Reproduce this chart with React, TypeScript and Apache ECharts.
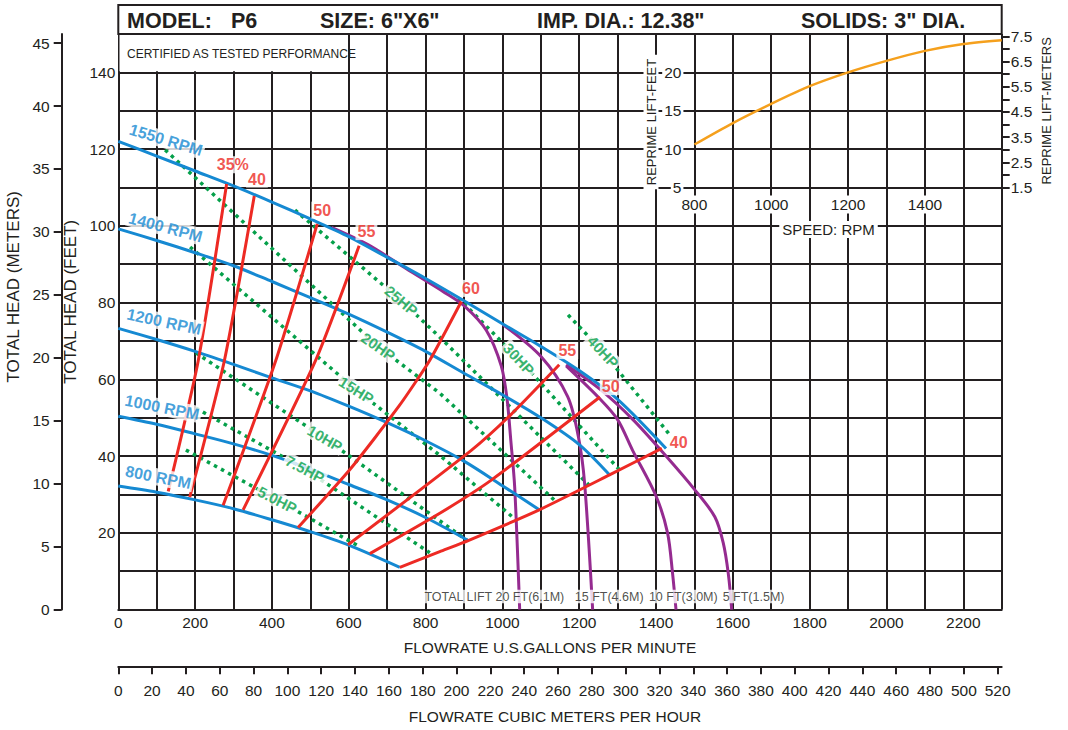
import React, { useEffect, useRef } from 'react';
import * as echarts from 'echarts';

const INK = '#231f20';
const BLUE = '#1589d2';
const RED = '#ed2a24';
const PURPLE = '#952b90';
const GREEN = '#05a04a';
const ORANGE = '#f5a01d';
const FONT = '"Liberation Sans", Arial, Helvetica, sans-serif';

// ---------- axis ticks / labels ----------
const gpmLabels = [0, 200, 400, 600, 800, 1000, 1200, 1400, 1600, 1800, 2000, 2200];
const feetLabels = [20, 40, 60, 80, 100, 120, 140];
const meterTicks = [0, 5, 10, 15, 20, 25, 30, 35, 40, 45];
const m3hTicks = [0, 20, 40, 60, 80, 100, 120, 140, 160, 180, 200, 220, 240, 260, 280, 300, 320, 340, 360, 380, 400, 420, 440, 460, 480, 500, 520];
const rpmLabels = [800, 1000, 1200, 1400];
const repFeetLabels = [5, 10, 15, 20];
const repMeterTicks = [1.5, 2, 2.5, 3, 3.5, 4, 4.5, 5, 5.5, 6, 6.5, 7, 7.5];
const repMeterLabels = [1.5, 2.5, 3.5, 4.5, 5.5, 6.5, 7.5];

// ---------- speed curves (GPM, FT) ----------
const rpm1550 = [[0, 122], [100, 118.2], [200, 114.3], [300, 110.4], [400, 106.2], [500, 101.8], [600, 97.2], [700, 91.8], [800, 86.3], [900, 80.5], [1000, 74.5], [1100, 68.6], [1200, 62.3], [1300, 54.8], [1426, 42]];
const rpm1400 = [[0, 99.2], [100, 96.2], [200, 93], [300, 89.6], [400, 85.5], [500, 81.3], [600, 77], [700, 72.3], [800, 67.3], [900, 61.6], [1000, 56], [1100, 50], [1200, 43], [1280, 35]];
const rpm1200 = [[0, 73.3], [100, 70.4], [200, 67.3], [300, 63.9], [400, 60.4], [500, 57], [600, 53], [700, 48.7], [800, 44], [900, 38.7], [1000, 32.3], [1096, 26]];
const rpm1000 = [[0, 50.4], [100, 48.3], [200, 45.8], [300, 43.2], [400, 40.2], [500, 36.6], [600, 32.6], [700, 28.6], [800, 24], [911, 18]];
const rpm800 = [[0, 32.2], [100, 30.6], [200, 28.6], [300, 26.3], [400, 23.4], [500, 20.3], [600, 16.8], [733, 11]];

// ---------- efficiency lines ----------
const eff35 = [[130, 30.8], [208, 64.8], [282, 110.9]];
const eff40 = [[186, 29.3], [276, 64.8], [354, 107.8]];
const eff50 = [[273, 27.2], [410, 64.9], [518, 100.5]];
const eff55 = [[325, 26], [514, 65], [627, 94.8]];
const eff60 = [[468, 21.4], [603, 36.5], [732, 53.2], [811, 65], [893, 80.3]];
const eff55r = [[598, 16.9], [919, 41.5], [1019, 50.5], [1148, 63.8]];
const eff50r = [[655, 14.6], [837, 25.1], [972, 33.8], [1254, 55.4]];
const eff40r = [[733, 11], [837, 15.1], [911, 18], [1096, 26], [1279, 35.1], [1415, 42]];

// ---------- total lift curves ----------
const lift20 = [[555, 99.6], [650, 95.1], [750, 88.8], [850, 82.6], [900, 79.2], [958, 72.8], [997, 63.5], [1012, 55], [1022, 44], [1032, 32], [1045, 0]];
const lift15 = [[1001, 74.3], [1100, 66], [1170, 55.5], [1198, 45], [1214, 33], [1235, 0]];
const lift10 = [[1166, 63.5], [1253, 55], [1300, 49.5], [1339, 41.5], [1400, 29.6], [1430, 20], [1443, 9.5], [1452, 0]];
const lift5 = [[1166, 63.8], [1253, 57.5], [1340, 49.5], [1426, 40], [1501, 31.2], [1553, 24.2], [1575, 17.4], [1588, 9.5], [1597, 0]];

// ---------- horsepower lines ----------
const hp5 = [[176, 41.6], [414, 28.6], [621, 16.8]];
const hp7_5 = [[202, 52.5], [486, 36.6], [811, 14.8]];
const hp10 = [[202, 66.9], [538, 44.6], [910, 17.9]];
const hp15 = [[187, 94.5], [620, 57.2], [837, 40.2], [1027, 24.1]];
const hp20 = [[122, 119.8], [677, 68.5], [837, 56.4], [1141, 28]];
const hp25 = [[460, 104.1], [737, 80.5], [837, 71], [1225, 32.5]];
const hp30 = [[885, 81.2], [1043, 65.3], [1305, 36.4]];
const hp40 = [[1171, 76.8], [1262, 67.2], [1436, 45.5]];

// ---------- reprime inset ----------
const repRpm = [800, 900, 1000, 1100, 1200, 1300, 1400, 1500, 1600];
const repLiftFt = [10.6, 13.4, 15.9, 18.2, 20.0, 21.5, 22.8, 23.7, 24.2];

// ---------- annotations ----------
const rpmNotes = [
  { text: '1550 RPM', at: [124, 122.4], rot: -17 },
  { text: '1400 RPM', at: [123, 99.6], rot: -15 },
  { text: '1200 RPM', at: [119, 75.0], rot: -12 },
  { text: '1000 RPM', at: [114, 52.7], rot: -11 },
  { text: '800 RPM', at: [104, 34.5], rot: -11 },
];
const effNotes = [
  { text: '35%', at: [298, 115.9] },
  { text: '40', at: [361, 112.2] },
  { text: '50', at: [531, 104.1] },
  { text: '55', at: [646, 98.5] },
  { text: '60', at: [918, 83.7] },
  { text: '55', at: [1169, 67.5] },
  { text: '50', at: [1282, 58.1] },
  { text: '40', at: [1459, 43.6] },
];
const hpNotes = [
  { text: '5.0HP', at: [414, 28.6], rot: -27 },
  { text: '7.5HP', at: [486, 36.6], rot: -28 },
  { text: '10HP', at: [538, 44.6], rot: -30 },
  { text: '15HP', at: [620, 57.2], rot: -32 },
  { text: '20HP', at: [677, 68.5], rot: -35 },
  { text: '25HP', at: [737, 80.5], rot: -40 },
  { text: '30HP', at: [1043, 65.3], rot: -47 },
  { text: '40HP', at: [1262, 67.2], rot: -47 },
];
const liftNotes = [
  { text: 'TOTAL LIFT 20 FT(6.1M)', at: [979, 3.4] },
  { text: '15 FT(4.6M)', at: [1278, 3.4] },
  { text: '10 FT(3.0M)', at: [1471, 3.4] },
  { text: '5 FT(1.5M)', at: [1654, 3.4] },
];
const headerItems = [
  { text: 'MODEL:', x: 127 },
  { text: 'P6', x: 231 },
  { text: 'SIZE: 6"X6"', x: 320 },
  { text: 'IMP. DIA.: 12.38"', x: 537 },
  { text: 'SOLIDS: 3" DIA.', x: 801 },
];

// ---------- layout ----------
const PL = 118.3;
const PT = 34;
const PW = 883.4;
const PH = 575.6;
const GPM_MAX = 2300;
const FT_MAX = 150;
const FT_PER_M = 3.2808;
const GPM_PER_M3H = 4.40287;

const plain = (v: number) => String(v);

function curve(data: number[][], color: string, width: number, extra: any = {}) {
  return {
    type: 'line',
    xAxisIndex: 0,
    yAxisIndex: 0,
    data,
    symbol: 'none',
    silent: true,
    lineStyle: { color, width, ...(extra.lineStyle || {}) },
    smooth: extra.smooth ?? 0.3,
    z: extra.z ?? 3,
  };
}

function notes(items: any[], color: string, size: number, weight: string, z = 20) {
  return {
    type: 'scatter',
    xAxisIndex: 0,
    yAxisIndex: 0,
    symbolSize: 1,
    itemStyle: { color: 'transparent' },
    silent: true,
    z,
    data: items.map((it) => ({
      value: it.at,
      label: {
        show: true,
        position: 'inside',
        formatter: it.text,
        rotate: it.rot || 0,
        color,
        fontFamily: FONT,
        fontSize: size,
        fontWeight: weight,
        backgroundColor: '#fff',
        padding: [0, 2, 0, 2],
        lineHeight: size + 1,
      },
    })),
  };
}

function buildOption() {
  const tickFont = { color: INK, fontFamily: FONT, fontSize: 15.5 };
  const insetLeft = PL + (1500 / GPM_MAX) * PW;
  const insetW = (800 / GPM_MAX) * PW;
  const insetH = (40 / FT_MAX) * PH;
  return {
    animation: false,
    backgroundColor: '#fff',
    textStyle: { fontFamily: FONT },
    grid: [
      { left: PL, top: PT, width: PW, height: PH, outerBoundsMode: 'none' },
      { left: insetLeft, top: PT, width: insetW, height: insetH, outerBoundsMode: 'none' },
      { left: PL, top: 620, width: PW, height: 46.7, outerBoundsMode: 'none' },
    ],
    xAxis: [
      {
        gridIndex: 0,
        type: 'value',
        min: 0,
        max: GPM_MAX,
        interval: 100,
        axisLine: { show: true, onZero: false, lineStyle: { color: INK, width: 2 } },
        axisTick: { show: false },
        splitLine: { show: true, lineStyle: { color: INK, width: 2 } },
        axisLabel: { ...tickFont, margin: 5, customValues: gpmLabels, formatter: plain },
        name: 'FLOWRATE U.S.GALLONS PER MINUTE',
        nameLocation: 'middle',
        nameGap: 30,
        nameTextStyle: { color: INK, fontFamily: FONT, fontSize: 15.5, padding: [0, 20, 0, 0] },
      },
      {
        gridIndex: 1,
        type: 'value',
        min: 800,
        max: 1600,
        interval: 200,
        axisLine: { show: false },
        axisTick: { show: false },
        splitLine: { show: false },
        axisLabel: { ...tickFont, margin: 8, customValues: rpmLabels, formatter: plain, backgroundColor: '#fff', padding: [1, 2, 1, 2] },
      },
      {
        gridIndex: 2,
        type: 'value',
        min: 0,
        max: GPM_MAX / GPM_PER_M3H,
        axisLine: { show: true, onZero: false, lineStyle: { color: INK, width: 2 } },
        axisTick: { show: true, length: 7.5, lineStyle: { color: INK, width: 2 }, customValues: m3hTicks },
        splitLine: { show: false },
        axisLabel: { ...tickFont, margin: 16, customValues: m3hTicks, formatter: plain },
        name: 'FLOWRATE CUBIC METERS PER HOUR',
        nameLocation: 'middle',
        nameGap: 42,
        nameTextStyle: { color: INK, fontFamily: FONT, fontSize: 15.5, padding: [0, 10, 0, 0] },
      },
    ],
    yAxis: [
      {
        gridIndex: 0,
        type: 'value',
        position: 'left',
        min: 0,
        max: FT_MAX,
        interval: 10,
        axisLine: { show: true, onZero: false, lineStyle: { color: INK, width: 2 } },
        axisTick: { show: false },
        splitLine: { show: true, lineStyle: { color: INK, width: 2 } },
        axisLabel: { ...tickFont, margin: 3, customValues: feetLabels, formatter: plain },
        name: 'TOTAL HEAD (FEET)',
        nameLocation: 'middle',
        nameGap: 27,
        nameTextStyle: { color: INK, fontFamily: FONT, fontSize: 17, padding: [0, 0, 0, 40] },
      },
      {
        gridIndex: 0,
        type: 'value',
        position: 'left',
        offset: 56.6,
        min: 0,
        max: FT_MAX / FT_PER_M,
        axisLine: { show: true, onZero: false, lineStyle: { color: INK, width: 2 } },
        axisTick: { show: true, length: 8, lineStyle: { color: INK, width: 2 }, customValues: meterTicks },
        splitLine: { show: false },
        axisLabel: { ...tickFont, margin: 12, customValues: meterTicks, formatter: plain },
        name: 'TOTAL HEAD (METERS)',
        nameLocation: 'middle',
        nameGap: 27,
        nameTextStyle: { color: INK, fontFamily: FONT, fontSize: 17, padding: [0, 0, 0, 70] },
      },
      {
        gridIndex: 1,
        type: 'value',
        position: 'left',
        min: 5,
        max: 25,
        axisLine: { show: false },
        axisTick: { show: false },
        splitLine: { show: false },
        axisLabel: { ...tickFont, margin: 11, customValues: repFeetLabels, formatter: plain, backgroundColor: '#fff', padding: [1, 2, 1, 2] },
      },
      {
        gridIndex: 1,
        type: 'value',
        position: 'right',
        min: 1.5,
        max: 1.5 + 20 / FT_PER_M,
        axisLine: { show: false },
        axisTick: { show: true, length: 8, lineStyle: { color: INK, width: 2 }, customValues: repMeterTicks },
        splitLine: { show: false },
        axisLabel: { ...tickFont, margin: 9, customValues: repMeterLabels, formatter: (v: number) => v.toFixed(1) },
        name: 'REPRIME LIFT-METERS',
        nameLocation: 'middle',
        nameGap: 38,
        nameTextStyle: { color: INK, fontFamily: FONT, fontSize: 13 },
      },
      { gridIndex: 2, type: 'value', show: false, min: 0, max: 1 },
    ],
    series: [
      ...[hp5, hp7_5, hp10, hp15, hp20, hp25, hp30, hp40].map((d) =>
        curve(d, GREEN, 3.5, { smooth: false, z: 4, lineStyle: { type: [3.5, 4.5], cap: 'butt' } })
      ),
      ...[lift20, lift15, lift10, lift5].map((d) => curve(d, PURPLE, 3, { z: 5 })),
      ...[rpm1550, rpm1400, rpm1200, rpm1000, rpm800].map((d) => curve(d, BLUE, 3, { z: 6 })),
      ...[eff35, eff40, eff50, eff55, eff60, eff55r, eff50r, eff40r].map((d) => curve(d, RED, 3, { z: 7, smooth: 0.2 })),
      {
        type: 'line',
        xAxisIndex: 1,
        yAxisIndex: 2,
        data: repRpm.map((r, i) => [r, repLiftFt[i]]),
        symbol: 'none',
        smooth: 0.3,
        silent: true,
        lineStyle: { color: ORANGE, width: 2.5 },
        z: 8,
      },
      notes(rpmNotes, BLUE, 16, 'bold'),
      notes(effNotes, RED, 16, 'bold'),
      notes(hpNotes, GREEN, 15, 'bold'),
      notes(liftNotes, INK, 12.5, 'normal'),
    ],
    graphic: [
      {
        type: 'rect',
        z: 50,
        shape: { x: PL, y: 5, width: PW, height: PT - 5 },
        style: { fill: '#fff', stroke: INK, lineWidth: 2 },
      },
      ...headerItems.map((h) => ({
        type: 'text',
        z: 51,
        x: h.x,
        y: 20.5,
        style: { text: h.text, fontFamily: FONT, fontWeight: 'bold', fontSize: 21.5, fill: INK, verticalAlign: 'middle' },
      })),
      {
        type: 'rect',
        z: 50,
        shape: { x: PL + 1.2, y: PT + 1, width: 228, height: 36.3 },
        style: { fill: '#fff' },
      },
      {
        type: 'text',
        z: 51,
        x: 127,
        y: 53.5,
        style: { text: 'CERTIFIED AS TESTED PERFORMANCE', fontFamily: FONT, fontSize: 12, fill: INK, verticalAlign: 'middle' },
      },
      {
        type: 'text',
        z: 51,
        x: 828.5,
        y: 229.5,
        style: {
          text: 'SPEED: RPM', fontFamily: FONT, fontSize: 15, fill: INK, align: 'center', verticalAlign: 'middle',
          backgroundColor: '#fff', padding: [1, 3, 1, 3],
        },
      },
      {
        type: 'text',
        z: 51,
        x: 651,
        y: 122,
        rotation: Math.PI / 2,
        style: {
          text: 'REPRIME LIFT-FEET', fontFamily: FONT, fontSize: 13, fill: INK, align: 'center', verticalAlign: 'middle',
          backgroundColor: '#fff', padding: [1, 4, 1, 4],
        },
      },
    ],
  };
}

export default function App() {
  const ref = useRef<HTMLDivElement>(null);
  useEffect(() => {
    if (!ref.current) return;
    const chart = echarts.init(ref.current, null, { renderer: 'svg' });
    chart.setOption(buildOption() as any);
    return () => chart.dispose();
  }, []);
  return (
    <div
      ref={ref}
      style={{ position: 'fixed', left: 0, top: 0, width: 1068, height: 730, background: '#fff' }}
    />
  );
}
